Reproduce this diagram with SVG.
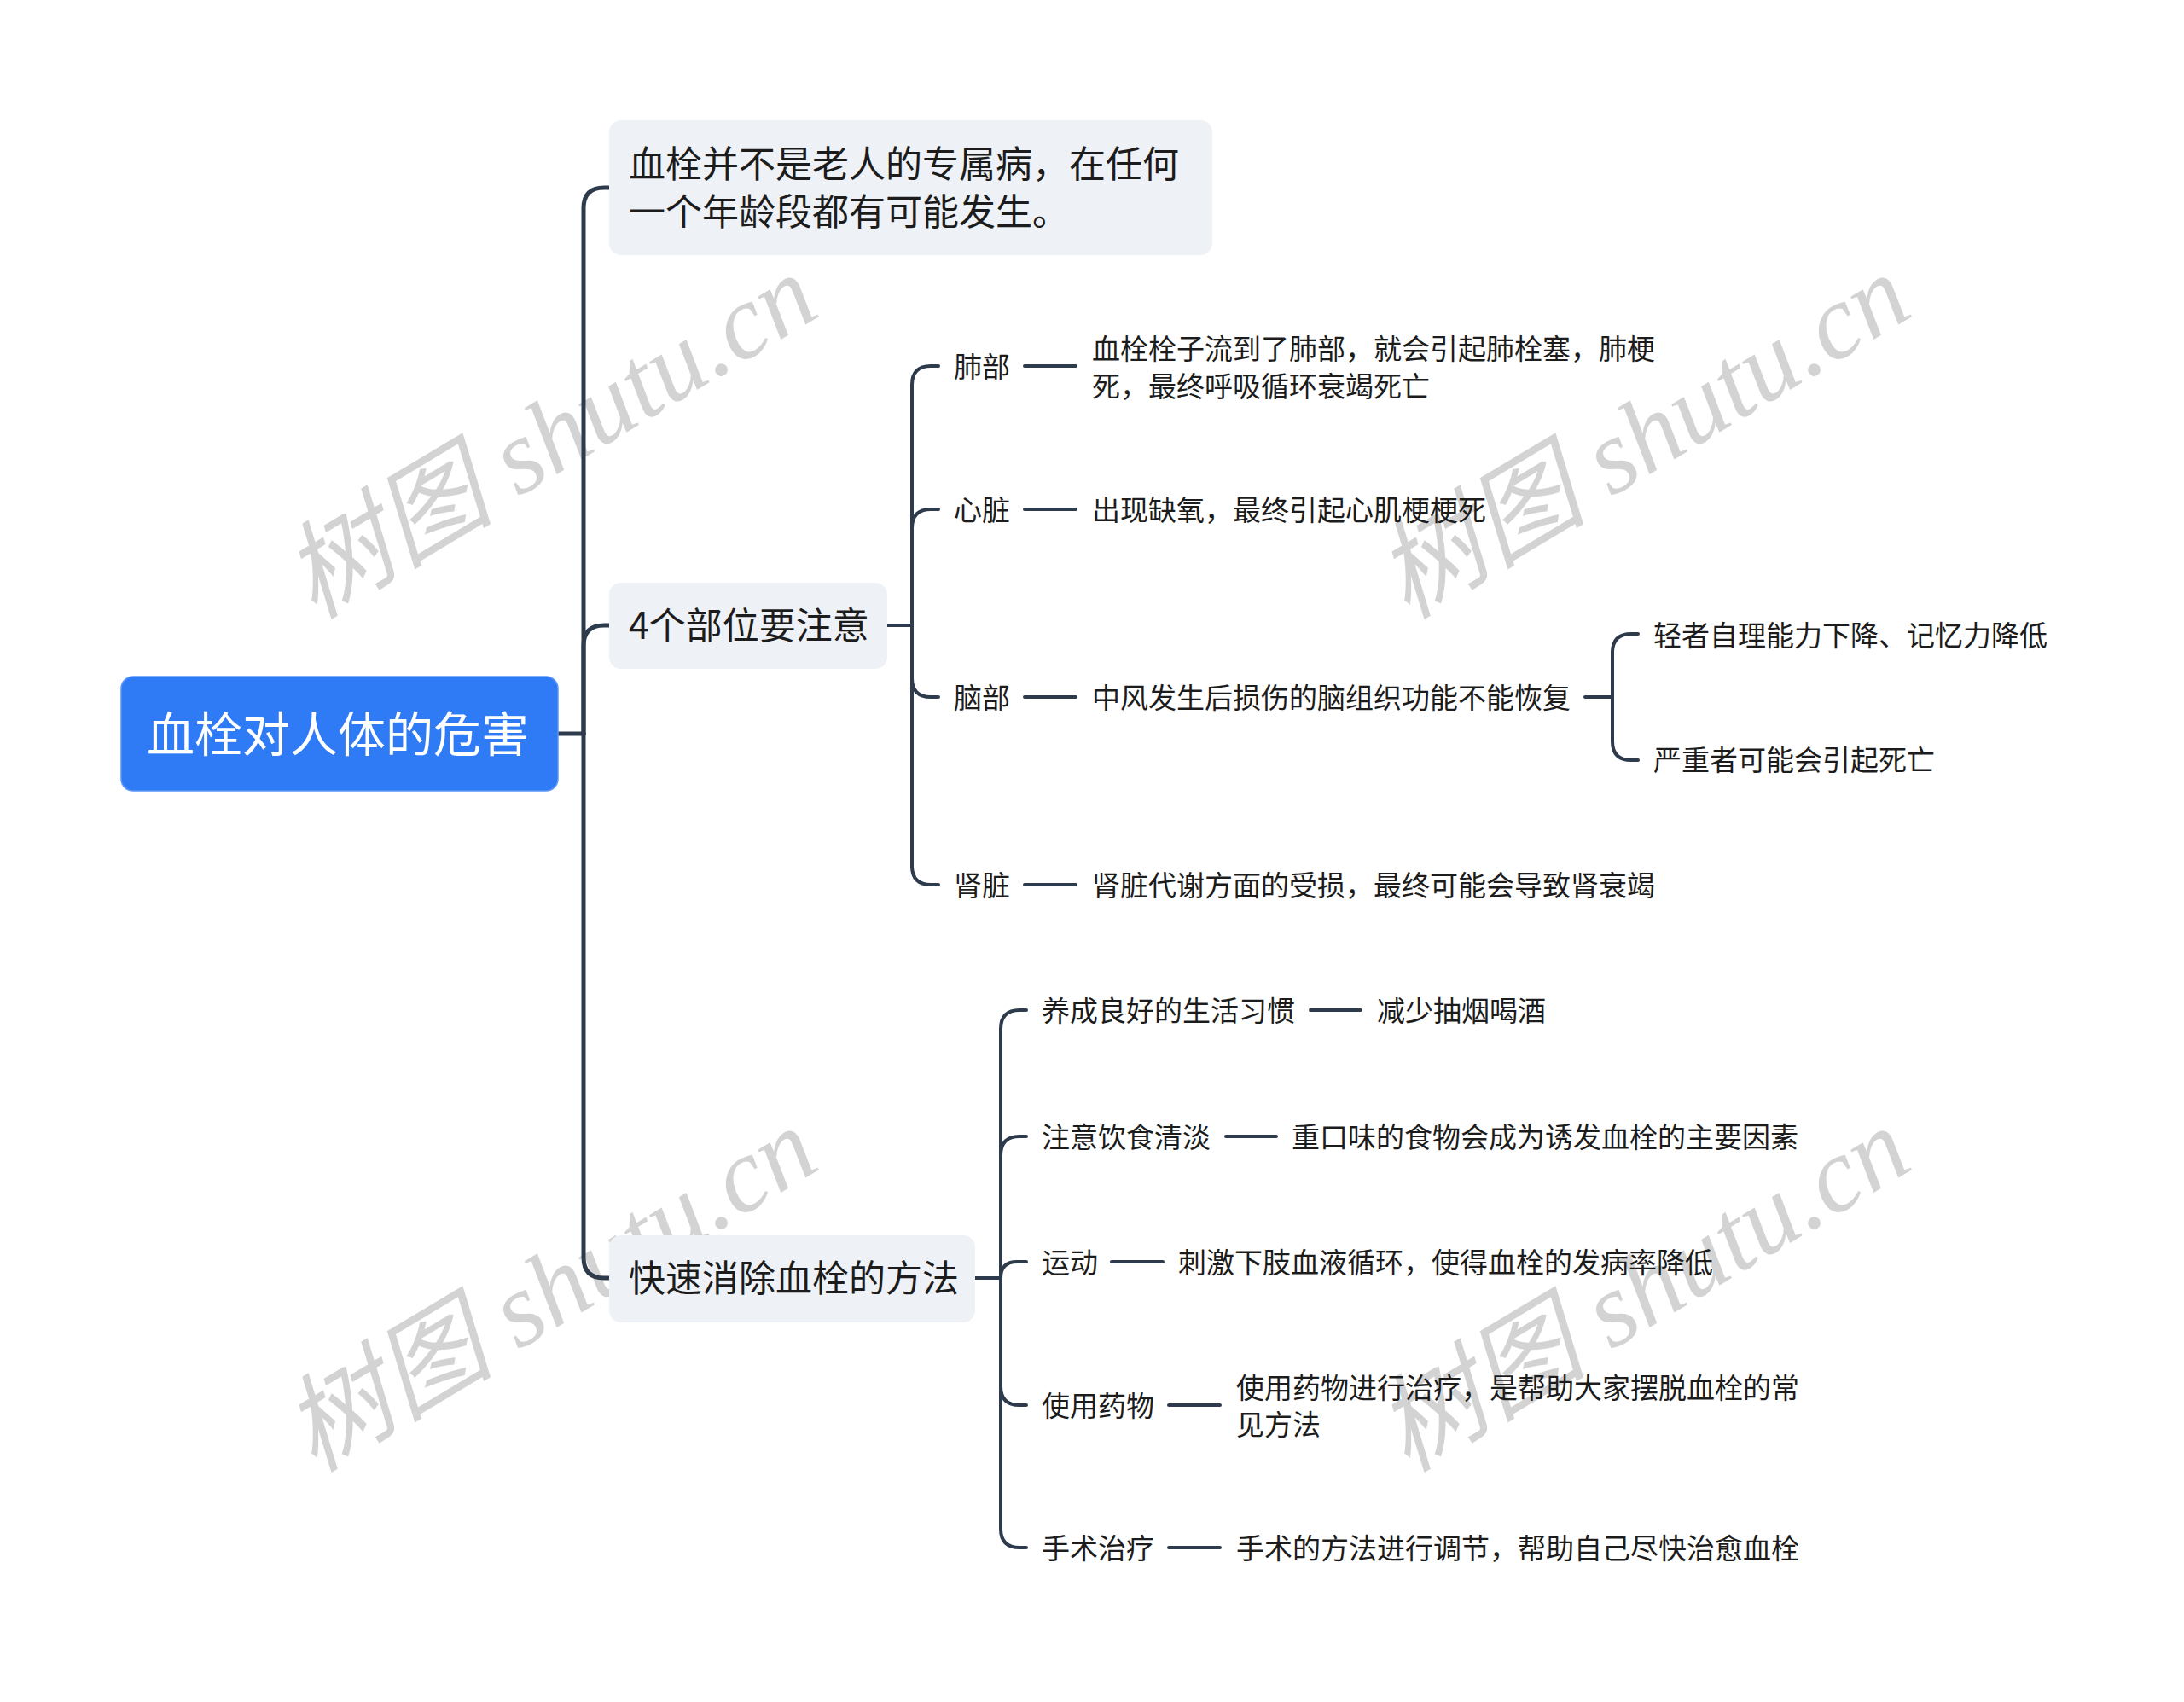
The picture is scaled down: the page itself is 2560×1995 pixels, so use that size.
<svg xmlns="http://www.w3.org/2000/svg" width="2560" height="1995" viewBox="0 0 2560 1995">
<style>
text{font-family:"Noto Sans CJK SC","Noto Sans",sans-serif;dominant-baseline:central;fill:#1c1c1c}
.wm{font-family:"Liberation Serif","Noto Sans CJK SC",serif;font-style:italic;font-size:124px;fill:#d3d3d3;text-anchor:middle}
.root{font-size:56px;fill:#ffffff;text-anchor:middle}
.l1{font-size:43px}
.l2{font-size:33px}
.box{fill:#eef1f5}
.c{fill:none;stroke:#2d3b4d;stroke-linecap:round;stroke-linejoin:round}
.c1{stroke-width:5}
.c2{stroke-width:4}
</style>
<rect width="2560" height="1995" fill="#ffffff"/>
<g id="watermarks">
<text class="wm" transform="translate(645,512) rotate(-31)">树图 shutu.cn</text>
<text class="wm" transform="translate(1926,512) rotate(-31)">树图 shutu.cn</text>
<text class="wm" transform="translate(645,1512) rotate(-31)">树图 shutu.cn</text>
<text class="wm" transform="translate(1926,1512) rotate(-31)">树图 shutu.cn</text>
</g>
<g id="connectors">
<path class="c c1" d="M654 860 H684"/>
<path class="c c1" d="M684 860 V244 Q684 220 708 220 H714"/>
<path class="c c1" d="M684 860 V757 Q684 733 708 733 H714"/>
<path class="c c1" d="M684 860 V1474 Q684 1498 708 1498 H714"/>
<path class="c c2" d="M1040 733 H1069"/>
<path class="c c2" d="M1069 733 V451 Q1069 429 1091 429 H1100"/>
<path class="c c2" d="M1069 733 V619 Q1069 597 1091 597 H1100"/>
<path class="c c2" d="M1069 733 V795 Q1069 817 1091 817 H1100"/>
<path class="c c2" d="M1069 733 V1015 Q1069 1037 1091 1037 H1100"/>
<path class="c c2" d="M1201 429 H1261"/>
<path class="c c2" d="M1201 597 H1261"/>
<path class="c c2" d="M1201 817 H1261"/>
<path class="c c2" d="M1201 1037 H1261"/>
<path class="c c2" d="M1858 817 H1890"/>
<path class="c c2" d="M1890 817 V765 Q1890 743 1912 743 H1920"/>
<path class="c c2" d="M1890 817 V869 Q1890 891 1912 891 H1920"/>
<path class="c c2" d="M1143 1498 H1173"/>
<path class="c c2" d="M1173 1498 V1206 Q1173 1184 1195 1184 H1203"/>
<path class="c c2" d="M1173 1498 V1354 Q1173 1332 1195 1332 H1203"/>
<path class="c c2" d="M1173 1498 Q1173 1479 1192 1479 H1203"/>
<path class="c c2" d="M1173 1498 V1625 Q1173 1647 1195 1647 H1203"/>
<path class="c c2" d="M1173 1498 V1792 Q1173 1814 1195 1814 H1203"/>
<path class="c c2" d="M1536 1184 H1595"/>
<path class="c c2" d="M1437 1332 H1496"/>
<path class="c c2" d="M1303 1479 H1363"/>
<path class="c c2" d="M1370 1647 H1430"/>
<path class="c c2" d="M1370 1814 H1430"/>
</g>
<g id="root">
<rect x="142" y="793" width="512" height="134" rx="14" fill="#2f7bf6" stroke="#5a97f7" stroke-width="1.5"/>
<text class="root" x="396" y="856">血栓对人体的危害</text>
</g>
<g id="n1">
<rect class="box" x="714" y="141" width="707" height="158" rx="14"/>
<text class="l1" x="737" y="189">血栓并不是老人的专属病，在任何</text>
<text class="l1" x="737" y="245">一个年龄段都有可能发生。</text>
</g>
<g id="n2">
<rect class="box" x="714" y="683" width="326" height="101" rx="14"/>
<text class="l1" x="737" y="730">4个部位要注意</text>
</g>
<g id="n3">
<rect class="box" x="714" y="1448" width="429" height="102" rx="14"/>
<text class="l1" x="737" y="1495">快速消除血栓的方法</text>
</g>
<g id="n2-1"><text class="l2" x="1118" y="428">肺部</text></g>
<g id="n2-1-1"><text class="l2" x="1280" y="407">血栓栓子流到了肺部，就会引起肺栓塞，肺梗</text><text class="l2" x="1280" y="451">死，最终呼吸循环衰竭死亡</text></g>
<g id="n2-2"><text class="l2" x="1118" y="596">心脏</text></g>
<g id="n2-2-1"><text class="l2" x="1280" y="596">出现缺氧，最终引起心肌梗梗死</text></g>
<g id="n2-3"><text class="l2" x="1118" y="816">脑部</text></g>
<g id="n2-3-1"><text class="l2" x="1280" y="816">中风发生后损伤的脑组织功能不能恢复</text></g>
<g id="n2-3-1-1"><text class="l2" x="1938" y="743">轻者自理能力下降、记忆力降低</text></g>
<g id="n2-3-1-2"><text class="l2" x="1938" y="889">严重者可能会引起死亡</text></g>
<g id="n2-4"><text class="l2" x="1118" y="1036">肾脏</text></g>
<g id="n2-4-1"><text class="l2" x="1280" y="1036">肾脏代谢方面的受损，最终可能会导致肾衰竭</text></g>
<g id="n3-1"><text class="l2" x="1221" y="1183">养成良好的生活习惯</text></g>
<g id="n3-1-1"><text class="l2" x="1614" y="1183">减少抽烟喝酒</text></g>
<g id="n3-2"><text class="l2" x="1221" y="1331">注意饮食清淡</text></g>
<g id="n3-2-1"><text class="l2" x="1514" y="1331">重口味的食物会成为诱发血栓的主要因素</text></g>
<g id="n3-3"><text class="l2" x="1221" y="1478">运动</text></g>
<g id="n3-3-1"><text class="l2" x="1381" y="1478">刺激下肢血液循环，使得血栓的发病率降低</text></g>
<g id="n3-4"><text class="l2" x="1221" y="1646">使用药物</text></g>
<g id="n3-4-1"><text class="l2" x="1449" y="1625">使用药物进行治疗，是帮助大家摆脱血栓的常</text><text class="l2" x="1449" y="1668">见方法</text></g>
<g id="n3-5"><text class="l2" x="1221" y="1813">手术治疗</text></g>
<g id="n3-5-1"><text class="l2" x="1449" y="1813">手术的方法进行调节，帮助自己尽快治愈血栓</text></g>
</svg>
